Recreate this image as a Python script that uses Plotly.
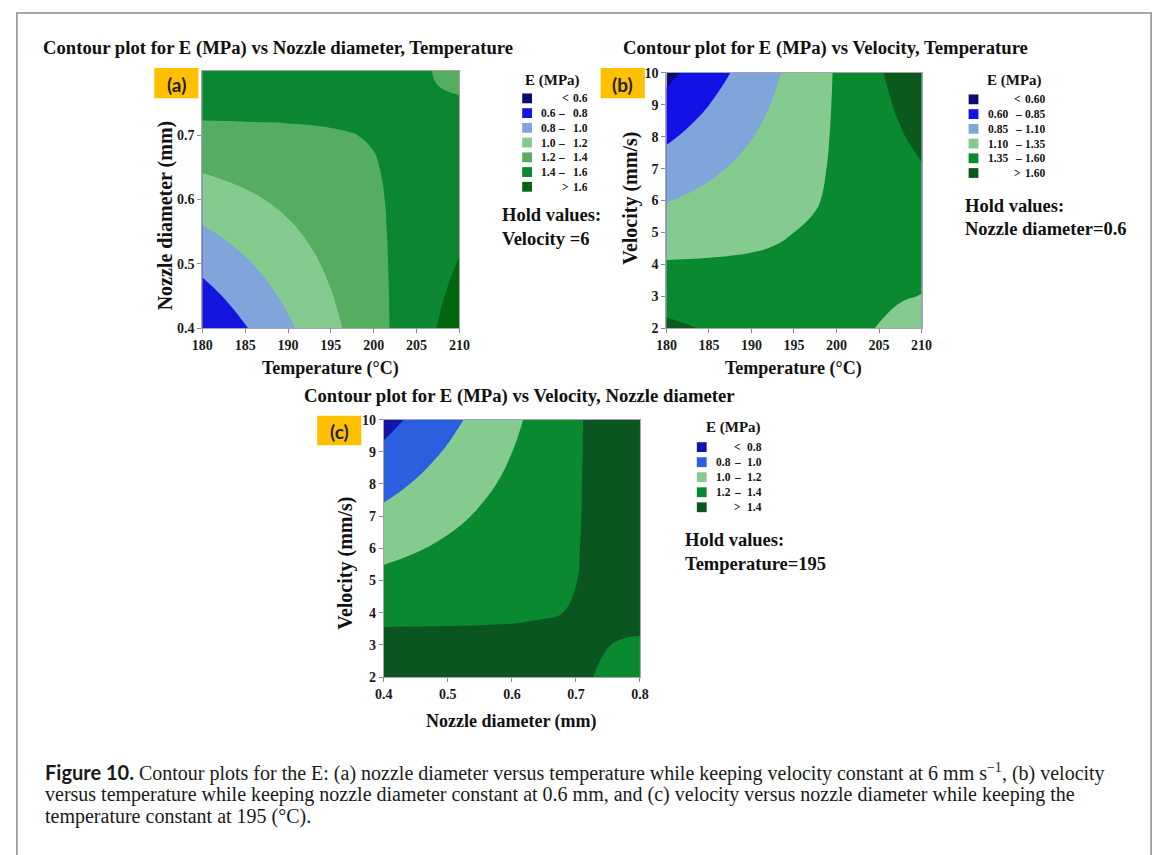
import plotly.graph_objects as go

W, H = 1168, 855

# ---------------- data ----------------
# (a) E (MPa) over temperature (x) and nozzle diameter (y); velocity held at 6
temp_a = [180, 182.5, 185, 187.5, 190, 192.5, 195, 197.5, 200, 202.5, 205, 207.5, 210]
nozzle_a = [0.40, 0.45, 0.50, 0.55, 0.60, 0.65, 0.70, 0.75, 0.80]
E_a = [
    [0.606, 0.697, 0.788, 0.879, 0.970, 1.060, 1.151, 1.242, 1.333, 1.424, 1.515, 1.606, 1.697],
    [0.729, 0.806, 0.883, 0.960, 1.037, 1.114, 1.191, 1.268, 1.345, 1.422, 1.499, 1.576, 1.653],
    [0.852, 0.915, 0.978, 1.042, 1.105, 1.168, 1.231, 1.294, 1.357, 1.421, 1.484, 1.547, 1.610],
    [0.975, 1.024, 1.074, 1.123, 1.172, 1.222, 1.271, 1.320, 1.370, 1.419, 1.468, 1.518, 1.567],
    [1.098, 1.133, 1.169, 1.204, 1.240, 1.275, 1.311, 1.346, 1.382, 1.417, 1.453, 1.488, 1.524],
    [1.221, 1.243, 1.264, 1.286, 1.308, 1.329, 1.351, 1.372, 1.394, 1.416, 1.437, 1.459, 1.480],
    [1.344, 1.352, 1.360, 1.367, 1.375, 1.383, 1.391, 1.398, 1.406, 1.414, 1.422, 1.429, 1.437],
    [1.467, 1.461, 1.455, 1.449, 1.443, 1.437, 1.431, 1.425, 1.418, 1.415, 1.415, 1.412, 1.410],
    [1.590, 1.570, 1.550, 1.530, 1.510, 1.490, 1.470, 1.450, 1.440, 1.435, 1.425, 1.390, 1.370],
]
levels_a = [0.6, 0.8, 1.0, 1.2, 1.4, 1.6]
xticks_a = [180, 185, 190, 195, 200, 205, 210]
yticks_a = [0.4, 0.5, 0.6, 0.7]
hold_a = ["Hold values:", "Velocity =6"]

# (b) E (MPa) over temperature (x) and velocity (y); nozzle diameter held at 0.6
temp_b = [180, 182.5, 185, 187.5, 190, 192.5, 195, 197.5, 200, 202.5, 205, 207.5, 210]
velocity_b = [2, 3, 4, 5, 6, 7, 8, 9, 10]
E_b = [
    [1.646, 1.614, 1.581, 1.548, 1.515, 1.482, 1.449, 1.416, 1.383, 1.370, 1.345, 1.310, 1.280],
    [1.508, 1.492, 1.476, 1.460, 1.445, 1.429, 1.413, 1.397, 1.385, 1.383, 1.375, 1.360, 1.347],
    [1.369, 1.370, 1.372, 1.373, 1.374, 1.376, 1.377, 1.378, 1.380, 1.381, 1.383, 1.384, 1.385],
    [1.230, 1.249, 1.267, 1.288, 1.310, 1.330, 1.350, 1.368, 1.382, 1.397, 1.415, 1.434, 1.452],
    [1.091, 1.127, 1.163, 1.198, 1.234, 1.270, 1.305, 1.341, 1.377, 1.412, 1.448, 1.484, 1.519],
    [0.953, 1.005, 1.058, 1.111, 1.164, 1.216, 1.269, 1.322, 1.375, 1.428, 1.480, 1.533, 1.586],
    [0.814, 0.884, 0.954, 1.024, 1.093, 1.163, 1.233, 1.303, 1.373, 1.443, 1.513, 1.583, 1.653],
    [0.675, 0.762, 0.849, 0.936, 1.023, 1.110, 1.197, 1.284, 1.371, 1.458, 1.545, 1.632, 1.720],
    [0.536, 0.640, 0.744, 0.849, 0.953, 1.057, 1.161, 1.265, 1.369, 1.474, 1.578, 1.682, 1.786],
]
levels_b = [0.60, 0.85, 1.10, 1.35, 1.60]
xticks_b = [180, 185, 190, 195, 200, 205, 210]
yticks_b = [2, 3, 4, 5, 6, 7, 8, 9, 10]
hold_b = ["Hold values:", "Nozzle diameter=0.6"]

# (c) E (MPa) over nozzle diameter (x) and velocity (y); temperature held at 195
nozzle_c = [0.400, 0.425, 0.450, 0.475, 0.500, 0.525, 0.550, 0.575, 0.600,
            0.625, 0.650, 0.675, 0.700, 0.725, 0.750, 0.775, 0.800]
velocity_c = [2, 3, 4, 5, 6, 7, 8, 9, 10]
E_c = [
    [1.561, 1.549, 1.537, 1.524, 1.512, 1.500, 1.487, 1.475, 1.463, 1.450, 1.438, 1.426, 1.413, 1.401, 1.389, 1.376, 1.364],
    [1.458, 1.454, 1.450, 1.445, 1.441, 1.437, 1.433, 1.429, 1.425, 1.421, 1.417, 1.413, 1.409, 1.405, 1.401, 1.396, 1.392],
    [1.354, 1.358, 1.362, 1.367, 1.371, 1.375, 1.379, 1.383, 1.387, 1.392, 1.396, 1.399, 1.404, 1.408, 1.412, 1.416, 1.421],
    [1.251, 1.263, 1.275, 1.288, 1.300, 1.313, 1.325, 1.337, 1.350, 1.362, 1.375, 1.387, 1.399, 1.412, 1.424, 1.437, 1.449],
    [1.147, 1.168, 1.188, 1.209, 1.230, 1.250, 1.271, 1.292, 1.312, 1.333, 1.354, 1.374, 1.395, 1.415, 1.436, 1.457, 1.477],
    [1.044, 1.073, 1.101, 1.130, 1.159, 1.188, 1.217, 1.246, 1.275, 1.304, 1.332, 1.361, 1.390, 1.419, 1.448, 1.477, 1.506],
    [0.940, 0.977, 1.014, 1.051, 1.089, 1.126, 1.163, 1.199, 1.237, 1.274, 1.311, 1.348, 1.386, 1.423, 1.460, 1.497, 1.534],
    [0.837, 0.882, 0.927, 0.973, 1.018, 1.063, 1.109, 1.154, 1.199, 1.245, 1.290, 1.336, 1.381, 1.426, 1.472, 1.517, 1.562],
    [0.733, 0.787, 0.840, 0.894, 0.947, 1.001, 1.055, 1.108, 1.162, 1.216, 1.269, 1.323, 1.376, 1.430, 1.484, 1.537, 1.591],
]
levels_c = [0.8, 1.0, 1.2, 1.4]
xticks_c = [0.4, 0.5, 0.6, 0.7, 0.8]
yticks_c = [2, 3, 4, 5, 6, 7, 8, 9, 10]
hold_c = ["Hold values:", "Temperature=195"]

titles = ["Contour plot for E (MPa) vs Nozzle diameter, Temperature",
          "Contour plot for E (MPa) vs Velocity, Temperature",
          "Contour plot for E (MPa) vs Velocity, Nozzle diameter"]
panel_tags = ["(a)", "(b)", "(c)"]
caption_head = "Figure 10."
caption = [
    " Contour plots for the E: (a) nozzle diameter versus temperature while keeping velocity constant at 6 mm s<sup>\u22121</sup>, (b) velocity",
    "versus temperature while keeping nozzle diameter constant at 0.6 mm, and (c) velocity versus nozzle diameter while keeping the",
    "temperature constant at 195 (\u00b0C).",
]

# ---------------- styles ----------------
colors_a = ["#0c0c6e", "#1515e0", "#7fa5db", "#85cb8f", "#55ad60", "#0a8730", "#03660f"]
colors_b = ["#0c0c6e", "#1212e6", "#7fa5db", "#85cb8f", "#0a8a2e", "#0a5a1e"]
colors_c = ["#1414a8", "#2b5fe0", "#85cb8f", "#0a8a2e", "#0a5520"]
SERIF = "Liberation Serif"
TAG_BG = "#FFC000"


def px(x):
    return x / W


def py(y):
    return 1 - y / H


def contour(x, y, z, levels, colors, xa, ya):
    n = len(colors) - 1
    return go.Contour(
        x=x, y=y, z=z, xaxis=xa, yaxis=ya,
        contours=dict(start=levels[0], end=levels[-1],
                      size=round(levels[1] - levels[0], 4),
                      coloring="fill", showlines=False),
        line=dict(width=0, smoothing=1.3),
        colorscale=[[i / n, c] for i, c in enumerate(colors)],
        showscale=False, hoverinfo="skip")


fig = go.Figure()
fig.add_trace(contour(temp_a, nozzle_a, E_a, levels_a, colors_a, "x", "y"))
fig.add_trace(contour(temp_b, velocity_b, E_b, levels_b, colors_b, "x2", "y2"))
fig.add_trace(contour(nozzle_c, velocity_c, E_c, levels_c, colors_c, "x3", "y3"))


def axis(dom, rng, vals, fmt, anchor, horiz):
    d = [px(dom[0]), px(dom[1])] if horiz else [py(dom[1]), py(dom[0])]
    return dict(domain=d, range=list(rng), tickmode="array", tickvals=vals,
                ticktext=["<b>" + fmt.format(v) + "</b>" for v in vals],
                anchor=anchor, showline=True, linecolor="#a5a5a5", linewidth=1,
                mirror=True, ticks="outside", ticklen=4, tickcolor="#888",
                showgrid=False, zeroline=False, fixedrange=True,
                tickfont=dict(family=SERIF, size=14, color="#1a1a1a"))


fig.update_layout(
    xaxis=axis((195, 457), (180, 210), xticks_a, "{:g}", "y", True),
    yaxis=axis((65, 327), (0.4, 0.8), yticks_a, "{:.1f}", "x", False),
    xaxis2=axis((668, 928), (180, 210), xticks_b, "{:g}", "y2", True),
    yaxis2=axis((67, 327), (2, 10), yticks_b, "{:g}", "x2", False),
    xaxis3=axis((380, 641), (0.4, 0.8), xticks_c, "{:.1f}", "y3", True),
    yaxis3=axis((420, 682), (2, 10), yticks_c, "{:g}", "x3", False),
)

ann = []
shapes = []


def text(x, y, s, size, xanchor="center", angle=0, family=SERIF, color="#111"):
    ann.append(dict(x=px(x), y=py(y), xref="paper", yref="paper", text=s,
                    showarrow=False, xanchor=xanchor, yanchor="middle",
                    textangle=angle, font=dict(family=family, size=size, color=color)))


# frame
shapes.append(dict(type="rect", xref="paper", yref="paper", x0=px(6), x1=px(1162),
                   y0=py(870), y1=py(6), line=dict(color="#8c8c8c", width=1.5)))

# titles
text(31, 42, "<b>" + titles[0] + "</b>", 18.7, "left")
text(622, 42, "<b>" + titles[1] + "</b>", 18.7, "left")
text(297, 396, "<b>" + titles[2] + "</b>", 18.7, "left")

# axis titles
text(326, 368, "<b>Temperature (\u00b0C)</b>", 18)
text(157, 212, "<b>Nozzle diameter (mm)</b>", 20, angle=-90)
text(798, 368, "<b>Temperature (\u00b0C)</b>", 18)
text(631, 195, "<b>Velocity (mm/s)</b>", 20, angle=-90)
text(510, 727, "<b>Nozzle diameter (mm)</b>", 18)
text(340, 566, "<b>Velocity (mm/s)</b>", 20, angle=-90)

# panel tags
for (x0, y0, x1, y1), tag in zip([(146, 62, 191, 93), (601, 62, 646, 93), (312, 416, 357, 446)], panel_tags):
    shapes.append(dict(type="rect", xref="paper", yref="paper", x0=px(x0), x1=px(x1),
                       y0=py(y1), y1=py(y0), fillcolor=TAG_BG, line=dict(width=0)))
    text((x0 + x1) / 2, (y0 + y1) / 2 + 1, "<b>" + tag + "</b>", 19, family="Lato", color="#222")


def legend(hx, hy, sq_x, y0, dy, lo_x, dash_x, sym_x, hi_x, levels, fmt, colors):
    text(hx, hy, "<b>E (MPa)</b>", 15)
    last = len(colors) - 1
    fs = 11.5
    for k, col in enumerate(colors):
        y = y0 + k * dy
        shapes.append(dict(type="rect", xref="paper", yref="paper", x0=px(sq_x), x1=px(sq_x + 10),
                           y0=py(y + 5), y1=py(y - 5), fillcolor=col, line=dict(width=0)))
        if k == 0 or k == last:
            sym = "&lt;" if k == 0 else "&gt;"
            val = levels[0] if k == 0 else levels[-1]
            text(sym_x, y, "<b>" + sym + "</b>", fs)
            text(hi_x, y, "<b>" + fmt.format(val) + "</b>", fs, "right")
        else:
            text(lo_x, y, "<b>" + fmt.format(levels[k - 1]) + "</b>", fs, "left")
            text(dash_x, y, "<b>\u2013</b>", fs)
            text(hi_x, y, "<b>" + fmt.format(levels[k]) + "</b>", fs, "right")


legend(552, 75, 521, 93, 15, 538, 561, 565, 590, levels_a, "{:.1f}", colors_a)
legend(1023, 75, 976, 94, 15, 994, 1027, 1026, 1056, levels_b, "{:.2f}", colors_b)
legend(736, 428, 699, 448, 15.3, 717, 740, 740, 767, levels_c, "{:.1f}", colors_c)

# hold values
text(498, 212, "<b>" + hold_a[0] + "</b>", 18.5, "left")
text(498, 236, "<b>" + hold_a[1] + "</b>", 18.5, "left")
text(970, 203, "<b>" + hold_b[0] + "</b>", 18.5, "left")
text(970, 226, "<b>" + hold_b[1] + "</b>", 18.5, "left")
text(685, 543, "<b>" + hold_c[0] + "</b>", 18.5, "left")
text(685, 567, "<b>" + hold_c[1] + "</b>", 18.5, "left")

# caption
head = '<span style="font-family:Lato;font-weight:bold">' + caption_head + "</span>"
for i, line in enumerate(caption):
    s = (head + line) if i == 0 else line
    text(33, 779 + 22.5 * i, s, 20, "left", color="#1a1a1a")

fig.update_layout(
    width=W, height=H, margin=dict(l=0, r=0, t=0, b=0),
    paper_bgcolor="white", plot_bgcolor="white",
    font=dict(family=SERIF, color="#111"),
    annotations=ann, shapes=shapes, showlegend=False,
)

fig.write_html("out.html")
